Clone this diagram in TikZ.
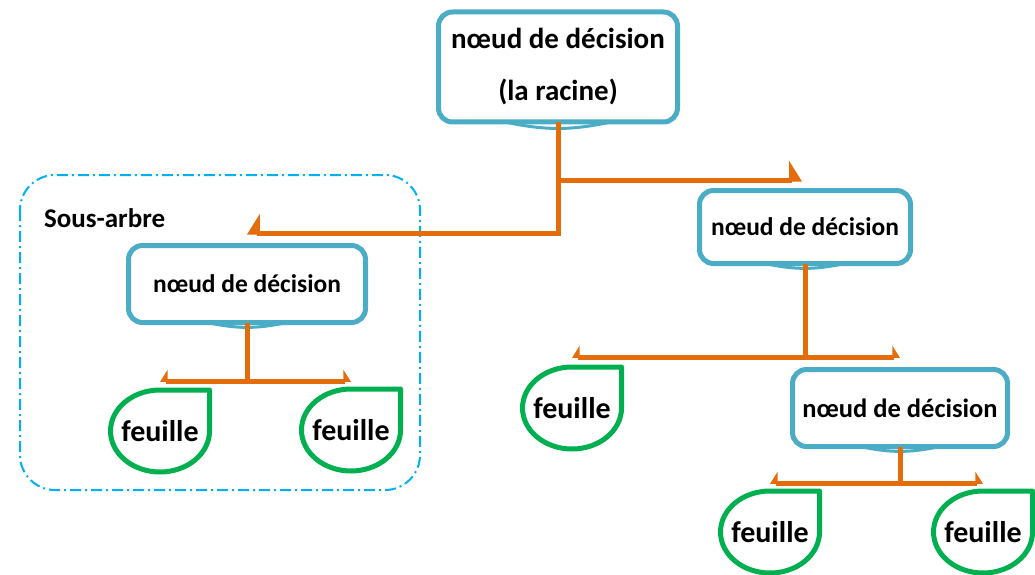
\documentclass[tikz,border=0pt]{standalone}
\usepackage{fontspec}
\setmainfont{Carlito}
\usetikzlibrary{arrows.meta}

\definecolor{boxblue}{RGB}{75,172,198}
\definecolor{leafgreen}{RGB}{0,176,80}
\definecolor{branchorange}{RGB}{228,108,10}
\definecolor{framecyan}{RGB}{0,176,240}

\begin{document}
\begin{tikzpicture}[
    x=1pt, y=-1pt,
    every node/.style={
        inner sep=0pt,
        outer sep=0pt,
    },
    decision/.style n args={2}{
        draw=boxblue,
        line width=5pt,
        rounded corners=14pt,
        fill=white,
        align=center,
        minimum width=#1pt,
        minimum height=#2pt,
        font=\bfseries\fontsize{25.5}{30}\selectfont,
    },
    leaf/.style={
        minimum width=99pt,
        minimum height=82pt,
        font=\bfseries\fontsize{30}{34}\selectfont,
    },
    leafline/.style={draw=leafgreen, line width=5pt, line join=round},
    branch/.style={draw=branchorange, line width=5pt},
    % half arrow heads, big ones below the root
    bigl/.style={-{Triangle[left,length=12pt,width=38pt]}},
    bigr/.style={-{Triangle[right,length=12pt,width=38pt]}},
    tipl/.style={-{Triangle[left,length=7pt,width=22pt]}},
    tipr/.style={-{Triangle[right,length=7pt,width=22pt]}},
    notch/.style={draw=boxblue, line width=3pt},
    frame/.style={
        draw=framecyan,
        line width=2pt,
        rounded corners=35pt,
        dash pattern=on 11pt off 4pt on 2pt off 4pt,
    },
]
    \useasboundingbox (0,0) rectangle (1035,575);

    % sub-tree frame
    \draw[frame] (20,175) rectangle (420,490);
    \node[anchor=west, font=\bfseries\fontsize{27}{30}\selectfont] (sub) at (44,218) {Sous-arbre};

    % decision nodes
    \node[decision={239}{110}, font=\bfseries\fontsize{29}{52}\selectfont] (root) at (558,67) {nœud de décision\\(la racine)};
    \node[decision={237}{77}] (lft) at (247,284) {nœud de décision};
    \node[decision={211}{73}] (rgt) at (805,227) {nœud de décision};
    \node[decision={215}{77}, font=\bfseries\fontsize{26.5}{30}\selectfont] (low) at (900,408) {nœud de décision};
    \foreach \n/\w in {root/53,lft/40,rgt/40,low/40}{
        \draw[notch] ([xshift=-\w pt]\n.south) to[bend right=12] ([xshift=\w pt]\n.south);
    }

    % leaves
    \node[leaf] (la) at (160,431) {feuille};
    \node[leaf] (lb) at (351,430) {feuille};
    \node[leaf] (lc) at (572,408) {feuille};
    \node[leaf] (ld) at (770,532) {feuille};
    \node[leaf] (le) at (983,532) {feuille};
    \foreach \n in {la,lb,lc,ld,le}{
        \draw[leafline] (\n.north east) -- (\n.east)
            arc[start angle=0, end angle=-270, x radius=49.5pt, y radius=41pt] -- cycle;
    }

    % branches
    \coordinate (jroot) at (558,233);
    \coordinate (jroot2) at (558,180);
    \coordinate (jlft) at (247,381);
    \coordinate (jrgt) at (805,357);
    \coordinate (jlow) at (900,483);
    \draw[branch, bigr] (root.south) |- (lft.north |- jroot);
    \draw[branch, bigl] (jroot2) -- ([xshift=-3pt]rgt.north |- jroot2);
    \draw[branch, tipr] (lft.south) |- (la.north |- jlft);
    \draw[branch, tipl] (lft.south) |- (lb.north |- jlft);
    \draw[branch, tipr] (rgt.south) |- (lc.north |- jrgt);
    \draw[branch, tipl] (rgt.south) |- (low.north |- jrgt);
    \draw[branch, tipr] (low.south) |- (ld.north |- jlow);
    \draw[branch, tipl] (low.south) |- (le.north |- jlow);
\end{tikzpicture}
\end{document}
